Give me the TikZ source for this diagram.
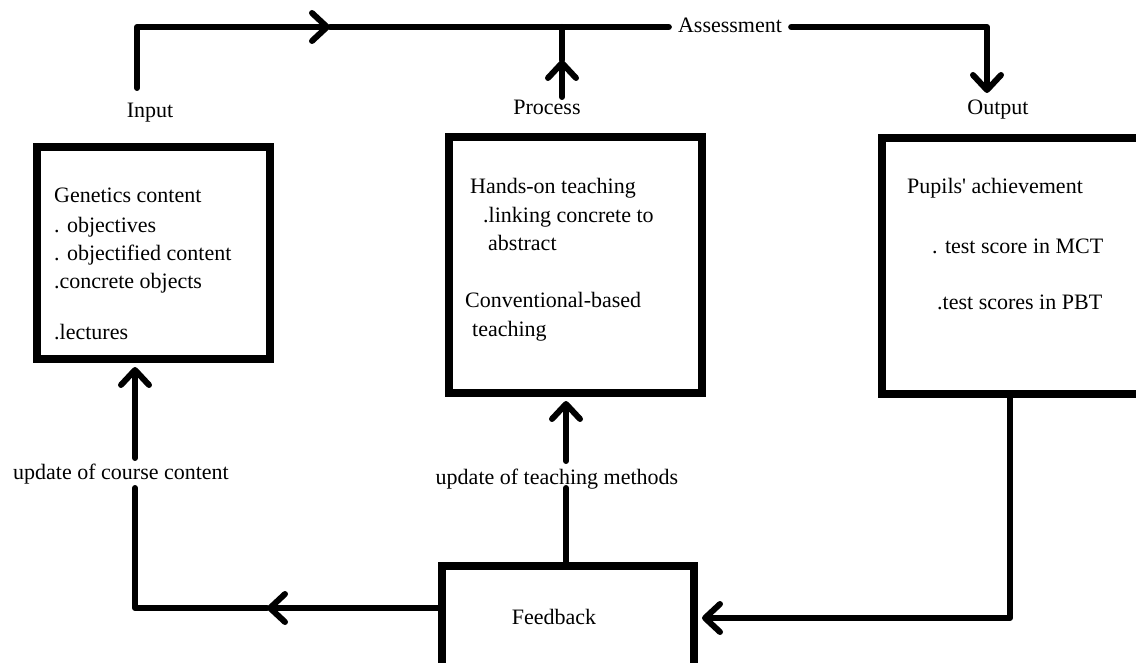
\documentclass[tikz,border=0pt]{standalone}
\usepackage{fontspec}
\setmainfont{Liberation Serif}
\usetikzlibrary{arrows.meta,calc}
\tikzset{
  chev/.tip={Straight Barb[length=15pt,width=28pt,round]},
  conn/.style={line width=6pt, line cap=round, line join=round},
  stagebox/.style={draw, line width=8pt, rectangle, inner sep=0pt},
  txt/.style={font=\fontsize{22}{28}\selectfont, inner sep=0pt, anchor=base west},
  lbl/.style={font=\fontsize{22}{28}\selectfont, inner sep=0pt, anchor=base},
}
\begin{document}
\begin{tikzpicture}[x=1pt,y=-1pt]
\useasboundingbox (0,0) rectangle (1136,663);
\clip (0,0) rectangle (1136,663);
\fill[white] (0,0) rectangle (1136,663);

% boxes
\node[stagebox, minimum width=233pt, minimum height=212pt] (inBox) at (153.5,253) {};
\node[stagebox, minimum width=253pt, minimum height=256pt] (prBox) at (575.5,265) {};
\node[stagebox, minimum width=278pt, minimum height=256pt] (outBox) at (1021,266) {};
\node[stagebox, minimum width=252pt, minimum height=110pt] (fb) at (568,621) {};

% box texts
\node[txt] (in1) at (54,203) {Genetics content};
\node[txt] (in2) at (54,233) {. objectives};
\node[txt] (in3) at (54,261) {. objectified content};
\node[txt] (in4) at (54,289) {.concrete objects};
\node[txt] (in5) at (54,339) {.lectures};

\node[txt] (pr1) at (470,194) {Hands-on teaching};
\node[txt] (pr2) at (483,223) {.linking concrete to};
\node[txt] (pr3) at (488,251) {abstract};
\node[txt] (pr4) at (465,308) {Conventional-based};
\node[txt] (pr5) at (472,336) {teaching};

\node[txt] (out1) at (907,194) {Pupils\textquotesingle{} achievement};
\node[txt] (out2) at (932,254) {. test score in MCT};
\node[txt] (out3) at (937,309) {.test scores in PBT};

% labels
\node[lbl] (inLbl) at (150,118) {Input};
\node[lbl] (prLbl) at (547,115) {Process};
\node[lbl] (outLbl) at (998,115) {Output};
\node[lbl, inner xsep=9pt] (as) at (730,33) {Assessment};
\node[lbl] (fbTxt) at (554,624) {Feedback};
\node[lbl] (updC) at (121,479) {update of course content};
\node[lbl] (updT) at (557,484) {update of teaching methods};

% top connectors
\coordinate (inTop) at (137,88);
\coordinate (a1) at (330,27);
\coordinate (outTip) at (987,93);
\coordinate (prTop) at (562,97);
\coordinate (a2) at (562,60);
\draw[conn,-chev] (inTop) |- (a1);
\draw[conn] (a1) -- (a1 -| as.west);
\draw[conn,-chev] (as.east |- a1) -| (outTip);
\draw[conn,-chev] (prTop) -- (a2);
\draw[conn] (a2) -- (a2 |- a1);

% feedback connectors
\coordinate (a3) at (267,608);
\coordinate (cC1) at (135,488);
\coordinate (cC2) at (135,458);
\draw[conn,-chev] (fb.west |- a3) -- (a3);
\draw[conn] (a3) -| (cC1);
\draw[conn,-chev,shorten >=4pt] (cC2) -- (cC2 |- inBox.south);

\coordinate (cP1) at (566,488);
\coordinate (cP2) at (566,461);
\draw[conn] (fb.north -| cP1) -- (cP1);
\draw[conn,-chev,shorten >=4pt] (cP2) -- (cP2 |- prBox.south);

\coordinate (cO) at (1010,618);
\draw[conn,-chev,shorten >=4pt] (cO |- outBox.south) -- (cO) -- (cO -| fb.east);
\end{tikzpicture}
\end{document}
